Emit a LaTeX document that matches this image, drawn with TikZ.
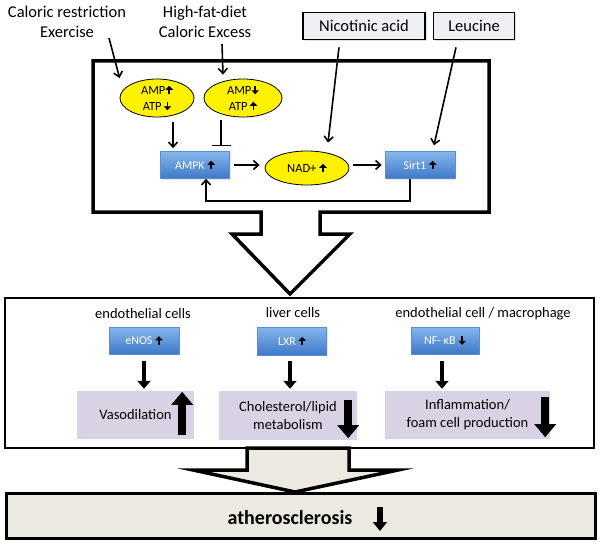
\documentclass[tikz,border=0pt]{standalone}
\usepackage{fontspec}
\setmainfont{Carlito}
\usetikzlibrary{shapes, arrows.meta, positioning, calc, shadows}

\definecolor{srcgray}{HTML}{EEF0F3}
\definecolor{effectpurple}{HTML}{D9D2E4}
\definecolor{athbeige}{HTML}{ECEAE0}
\definecolor{bluetop}{HTML}{86B6EC}
\definecolor{bluebot}{HTML}{3E78C7}
\definecolor{blueline}{HTML}{5A8ED4}

% small bold arrows used inside the labels
\newcommand{\uparr}{\tikz[baseline=0pt]\draw[black, line width=1.8pt,-{Triangle[length=4pt,width=7.5pt]}] (0pt,0pt) -- (0pt,8.5pt);}
\newcommand{\downarr}{\tikz[baseline=0pt]\draw[black, line width=1.8pt,-{Triangle[length=4pt,width=7.5pt]}] (0pt,8.5pt) -- (0pt,0pt);}

\begin{document}
\begin{tikzpicture}[
    x=1pt, y=-1pt,
    frame/.style={line width=3.5pt, line join=miter},
    panel/.style={draw, line width=2.5pt},
    toplabel/.style={align=center, font=\fontsize{16.5}{20}\selectfont, inner sep=1pt},
    source/.style={draw, line width=1.8pt, fill=srcgray, minimum width=#1, minimum height=27pt, font=\fontsize{16.5}{18}\selectfont, drop shadow={opacity=0.25, shadow xshift=1.5pt, shadow yshift=-1.5pt}},
    energy/.style={ellipse, draw, line width=0.8pt, fill=yellow, minimum width=#1, minimum height=38pt, inner sep=0pt, align=center, font=\fontsize{12.5}{16}\selectfont},
    enzyme/.style={rectangle, draw=blueline, line width=0.5pt, top color=bluetop, bottom color=bluebot, text=white, minimum width=#1, minimum height=27pt, inner sep=0pt, font=\fontsize{12}{14}\selectfont, drop shadow={opacity=0.2, shadow xshift=1pt, shadow yshift=-1pt}},
    cell/.style={font=\fontsize{14.5}{17}\selectfont},
    effect/.style={rectangle, fill=effectpurple, minimum width=#1, minimum height=48pt, align=center, font=\fontsize{14.5}{18}\selectfont},
    arr/.style={-{Straight Barb[length=5pt, width=9pt]}, line width=1.6pt},
    inh/.style={-{Bar[width=19pt]}, line width=1.6pt},
    thickarr/.style={line width=4.5pt, -{Triangle[length=8pt, width=13pt]}},
    bigarr/.style={line width=8pt, -{Triangle[length=13pt, width=21pt]}}
]
    \useasboundingbox (0,0) rectangle (600,543);

    % Pathway frame with the big arrow
    \draw[frame] (261,212) -- (93,212) -- (93,61) -- (489,61) -- (489,212) -- (320,212)
        -- (320,234) -- (350,234) -- (290,294) -- (232,234) -- (261,234) -- cycle;

    % Inputs
    \node[toplabel] (cr) at (67,22) {Caloric restriction\\Exercise};
    \node[toplabel] (hfd) at (205,22) {High-fat-diet\\Caloric Excess};
    \node[source=122pt] (nico) at (364,26) {Nicotinic acid};
    \node[source=81pt] (leu) at (474,26) {Leucine};

    % Components
    \node[energy=74pt] (amp1) at (157,98) {AMP\uparr\\ATP\,\downarr};
    \node[energy=78pt] (amp2) at (243,98) {AMP\downarr\\ATP\,\uparr};
    \node[enzyme=69pt] (ampk) at (195,165) {AMPK \uparr};
    \node[energy=84pt, minimum height=34pt] (nad) at (307,168) {NAD+ \uparr};
    \node[enzyme=70pt] (sirt) at (420,165) {Sirt1 \uparr};

    % Connections
    \draw[arr] ($(cr.south)+(42,-1)$) -- ($(amp1.west)+(0,-20)$);
    \draw[arr] ($(hfd.south)+(17,5)$) -- ($(amp2.north)+(-20,-4)$);
    \draw[arr] ($(nico.south)+(-25,7)$) -- ($(nad.north)+(21,-8)$);
    \draw[arr] ($(leu.south)+(-18,7)$) -- ($(sirt.north)+(14,-6)$);
    \draw[arr] ($(amp1.south)+(16,5)$) -- ($(ampk.north)+(-22,-3)$);
    \draw[inh] ($(amp2.south)+(-22,3)$) -- ($(ampk.north)+(26,-5)$);
    \draw[arr, shorten <=4pt, shorten >=5pt] (ampk.east) -- (ampk.east -| nad.west);
    \draw[arr, shorten <=4pt, shorten >=3pt] (nad.east |- sirt.west) -- (sirt.west);
    \draw[arr] ([xshift=-10pt]sirt.south) -- ++(0,22) -| ([xshift=11pt]ampk.south);

    % Lower big arrow and cell panel
    \filldraw[frame, fill=athbeige] (247,448) -- (247,470) -- (193,470) -- (295,492)
        -- (398,470) -- (349,470) -- (349,448) -- cycle;
    \draw[panel] (5,298) rectangle (594,448);

    \node[cell] (endo) at (143,314) {endothelial cells};
    \node[cell] (liver) at (293,313) {liver cells};
    \node[cell] (macro) at (483,314) {endothelial cell / macrophage};

    \node[enzyme=70pt] (enos) at (144,340.5) {eNOS \uparr};
    \node[enzyme=69pt, minimum height=28pt] (lxr) at (292,341) {LXR \uparr};
    \node[enzyme=68pt] (nfkb) at (445,340.5) {NF- κB \downarr};

    \node[effect=117pt] (vaso) at (135.5,415) {Vasodilation};
    \node[effect=138pt, minimum height=49pt] (chol) at (288,415.5) {Cholesterol/lipid\\metabolism};
    \node[effect=165pt] (infl) at (467.5,415) {Inflammation/\\foam cell production};

    \draw[thickarr, shorten <=7pt, shorten >=2pt] (enos) -- (enos |- vaso.north);
    \draw[thickarr, shorten <=6pt, shorten >=2pt] ([xshift=-2pt]lxr.south) -- ([xshift=-2pt]lxr.south |- chol.north);
    \draw[thickarr, shorten <=7pt, shorten >=2pt] ([xshift=-3pt]nfkb.south) -- ([xshift=-3pt]nfkb.south |- infl.north);

    % Effects
    \draw[bigarr] ($(vaso.south east)+(-12,-4)$) -- ($(vaso.north east)+(-12,1)$);
    \draw[bigarr] ($(chol.north east)+(-9,9)$) -- ($(chol.south east)+(-9,-2)$);
    \draw[bigarr] ($(infl.north east)+(-5,6)$) -- ($(infl.south east)+(-5,-2)$);

    % Outcome
    \node[draw, line width=3pt, fill=athbeige, minimum width=589pt, minimum height=45pt] (athero) at (300.5,515.5) {};
    \node[font=\fontsize{20}{22}\selectfont\bfseries] (athtxt) at (290,518) {atherosclerosis};
    \draw[line width=6pt, -{Triangle[length=9pt, width=14pt]}] ($(athtxt.east)+(24,-11)$) -- ($(athtxt.east)+(24,13)$);

\end{tikzpicture}
\end{document}
